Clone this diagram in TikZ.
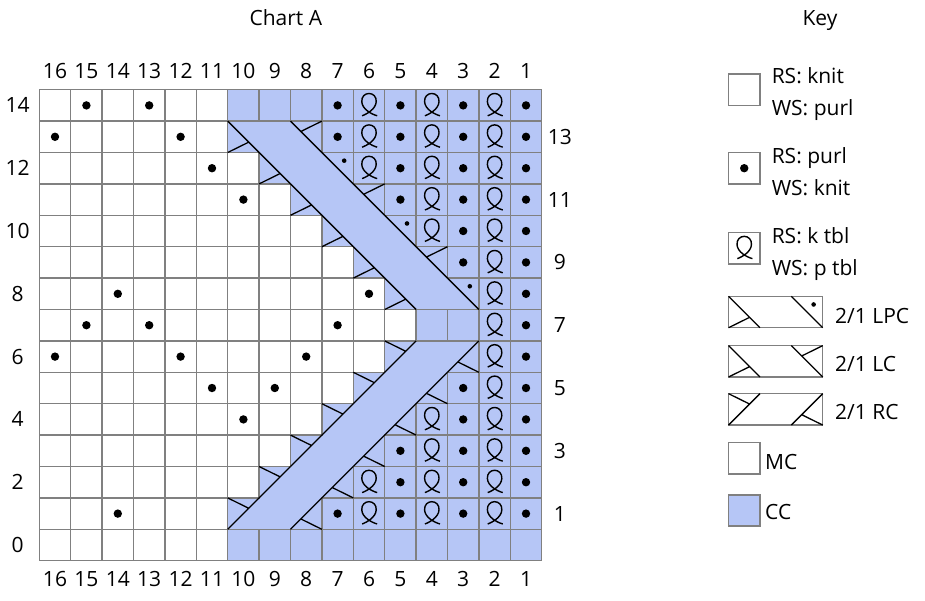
\documentclass[tikz,border=0pt]{standalone}
\usepackage{fontspec}
\setmainfont{Open Sans}
\definecolor{cc}{RGB}{182,198,246}
\definecolor{gridgray}{RGB}{128,128,128}

\begin{document}
\begin{tikzpicture}[x=31.4pt,y=31.4pt,
		every node/.style={font=\fontsize{21}{25}\selectfont},
		lbl/.style={inner sep=0pt,text height=15pt,text depth=0pt},
		chartcell/.style={draw=gridgray,line width=1.5pt},
		cable/.style={draw=black,line width=1.3pt},
		purl/.pic={\fill (0.5,0.5) circle (4.2pt);},
		ktbl/.pic={\draw[line width=1.4pt] (0.28,0.17) .. controls (0.42,0.22) and (0.72,0.38) .. (0.73,0.62)
			.. controls (0.74,0.78) and (0.63,0.88) .. (0.5,0.88) .. controls (0.37,0.88) and (0.26,0.78) .. (0.27,0.62)
			.. controls (0.28,0.38) and (0.58,0.22) .. (0.76,0.17);},
		lc/.pic={\draw[cable] (0,1) -- (1,0) (0,0) -- (0.67,0.33) (2,1) -- (3,0) (3,1) -- (2.33,0.67);},
		lpc/.pic={\draw[cable] (0,1) -- (1,0) (0,0) -- (0.67,0.33) (2,1) -- (3,0);
			\fill (2.71,0.74) circle (2.3pt);},
		rc/.pic={\draw[cable] (0,0) -- (1,1) (0,1) -- (0.67,0.67) (2,0) -- (3,1) (3,0) -- (2.33,0.33);}]
	\useasboundingbox (-1.2516,-1.2516) rectangle (28.207,17.857);
	
	\foreach \row/\w in {0/6,1/6,2/7,3/8,4/9,5/10,6/11,7/12,8/11,9/10,10/9,11/8,12/7,13/6,14/6}
		\fill[cc] (\w,\row) rectangle (16,\row+1);
	
	\foreach \row/\start in {0/-9,1/6,2/7,3/8,4/9,5/10,6/11,7/-9,8/11,9/10,10/9,11/8,12/7,13/6,14/-9}
		\foreach \x in {0,...,15} {
			\pgfmathtruncatemacro\incable{(\x>=\start)*(\x<\start+3)}
			\ifnum\incable=0 \draw[chartcell] (\x,\row) rectangle ++(1,1);\fi
		}
	
	\foreach \row/\x in {13/6,11/8,9/10} \pic at (\x,\row) {lc};
	\foreach \row/\x in {12/7,10/9,8/11} \pic at (\x,\row) {lpc};
	\foreach \row in {1,...,6} \pic at (\row+5,\row) {rc};
	
	\foreach \x/\row in {1/14,3/14,9/14,11/14,13/14,15/14,0/13,4/13,9/13,11/13,13/13,15/13,
			5/12,11/12,13/12,15/12,6/11,11/11,13/11,15/11,13/10,15/10,13/9,15/9,
			2/8,10/8,15/8,1/7,3/7,9/7,15/7,0/6,4/6,8/6,15/6,5/5,7/5,13/5,15/5,
			6/4,13/4,15/4,11/3,13/3,15/3,11/2,13/2,15/2,2/1,9/1,11/1,13/1,15/1}
		\pic at (\x,\row) {purl};
	\foreach \x/\row in {10/14,12/14,14/14,10/13,12/13,14/13,10/12,12/12,14/12,12/11,14/11,
			12/10,14/10,14/9,14/8,14/7,14/6,14/5,12/4,14/4,12/3,14/3,10/2,12/2,14/2,10/1,12/1,14/1}
		\pic at (\x,\row) {ktbl};
	
	\foreach \n in {1,...,16} {
		\node[lbl] (top\n) at (16.5-\n,15.6) {\n};
		\node[lbl] (bot\n) at (16.5-\n,-0.59) {\n};
	}
	\foreach \n in {0,2,...,14} \node[lbl] (left\n) at (-0.69,\n+0.5) {\n};
	\foreach \n in {1,3,...,13} \node[lbl] (right\n) at (16.58,\n+0.5) {\n};
	
	\node[lbl] (charttitle) at (7.85,17.28) {Chart A};
	\node[lbl] (keytitle) at (24.86,17.28) {Key};
	
	\draw[chartcell] (21.95,14.5) rectangle ++(1,1);
	\draw[chartcell] (21.95,12) rectangle ++(1,1);
	\pic at (21.95,12) {purl};
	\draw[chartcell] (21.95,9.45) rectangle ++(1,1);
	\pic at (21.95,9.45) {ktbl};
	\draw[chartcell] (21.95,7.42) rectangle ++(3,1);
	\pic at (21.95,7.42) {lpc};
	\draw[chartcell] (21.95,5.85) rectangle ++(3,1);
	\pic at (21.95,5.85) {lc};
	\draw[chartcell] (21.95,4.32) rectangle ++(3,1);
	\pic at (21.95,4.32) {rc};
	\draw[chartcell] (21.95,2.76) rectangle ++(1,1);
	\draw[chartcell,fill=cc] (21.95,1.1) rectangle ++(1,1);
	
	\begin{scope}[every node/.append style={lbl,anchor=west}]
	\node (rsknit) at (23.32,15.44) {RS: knit};
	\node (wspurl) at (23.32,14.41) {WS: purl};
	\node (rspurl) at (23.32,12.89) {RS: purl};
	\node (wsknit) at (23.32,11.87) {WS: knit};
	\node (rsktbl) at (23.32,10.34) {RS: k tbl};
	\node (wsptbl) at (23.32,9.32) {WS: p tbl};
	\node (lpctext) at (25.34,7.79) {2/1 LPC};
	\node (lctext) at (25.34,6.26) {2/1 LC};
	\node (rctext) at (25.34,4.73) {2/1 RC};
	\node (mctext) at (23.11,3.14) {MC};
	\node (cctext) at (23.11,1.55) {CC};
	\end{scope}
\end{tikzpicture}
\end{document}
